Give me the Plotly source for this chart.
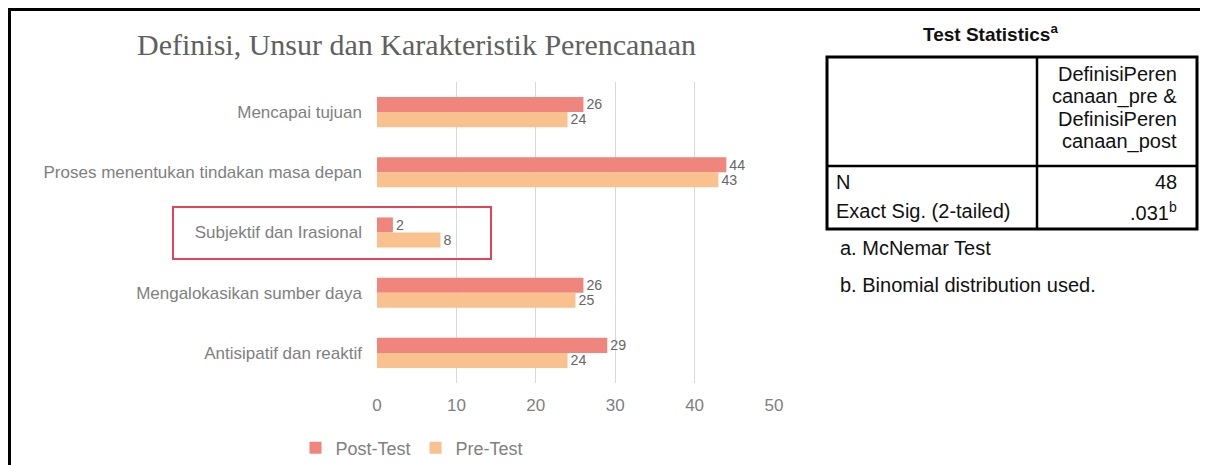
import plotly.graph_objects as go

categories = ["Mencapai tujuan", "Proses menentukan tindakan masa depan",
              "Subjektif dan Irasional", "Mengalokasikan sumber daya",
              "Antisipatif dan reaktif"]
post_test = [26, 44, 2, 26, 29]
pre_test = [24, 43, 8, 25, 24]
x_ticks = [0, 10, 20, 30, 40, 50]

chart_title = "Definisi, Unsur dan Karakteristik Perencanaan"
table_title = "<b>Test Statistics<sup>a</sup></b>"
header_lines = ["DefinisiPeren", "canaan_pre &", "DefinisiPeren", "canaan_post"]
row_labels = ["N", "Exact Sig. (2-tailed)"]
row_values = ["48", ".031<sup>b</sup>"]
footnotes = ["a. McNemar Test", "b. Binomial distribution used."]

# page body has an 8px margin: figure is drawn 8px right/down of the window origin
OFF = 8
W_FIG, H_FIG = 1208 - OFF, 465 - OFF
# plot area in window (reference) pixels
PL, PR, PT, PB = 377, 774, 82, 383
ML, MR, MT, MB = PL - OFF, W_FIG - (PR - OFF), PT - OFF, H_FIG - (PB - OFF)


def px(x):
    return (x - PL) / (PR - PL)


def py(y):
    return (PB - y) / (PB - PT)


POST_C = "#F0857D"
PRE_C = "#F9C18E"
GRAY = "#7F7F7F"
LBL = dict(family="Liberation Sans, Arial", size=16, color="#666666")

fig = go.Figure()
fig.add_trace(go.Bar(y=categories, x=post_test, name="Post-Test", orientation="h",
                     marker=dict(color=POST_C, line=dict(width=0)),
                     text=post_test, textposition="outside", textfont=LBL,
                     cliponaxis=False))
fig.add_trace(go.Bar(y=categories, x=pre_test, name="Pre-Test", orientation="h",
                     marker=dict(color=PRE_C, line=dict(width=0)),
                     text=pre_test, textposition="outside", textfont=LBL,
                     cliponaxis=False))

shapes = []
# outer frame (left and top)
shapes.append(dict(type="line", xref="paper", yref="paper",
                   x0=px(9.5), x1=px(9.5), y0=py(480), y1=py(8.5),
                   line=dict(color="black", width=3)))
shapes.append(dict(type="line", xref="paper", yref="paper",
                   x0=px(8), x1=px(1230), y0=py(9.5), y1=py(9.5),
                   line=dict(color="black", width=3)))
# highlight box
shapes.append(dict(type="rect", xref="paper", yref="paper",
                   x0=px(173), x1=px(491), y0=py(207), y1=py(259),
                   line=dict(color="#E5435A", width=2)))
# table
shapes.append(dict(type="rect", xref="paper", yref="paper",
                   x0=px(827), x1=px(1197), y0=py(57), y1=py(229),
                   line=dict(color="black", width=3)))
shapes.append(dict(type="line", xref="paper", yref="paper",
                   x0=px(1037), x1=px(1037), y0=py(57), y1=py(229),
                   line=dict(color="black", width=2.5)))
shapes.append(dict(type="line", xref="paper", yref="paper",
                   x0=px(827), x1=px(1197), y0=py(166), y1=py(166),
                   line=dict(color="black", width=2.5)))

TF = dict(family="Liberation Sans, Arial", size=20, color="#111111")
ann = []
ann.append(dict(text=chart_title, xref="paper", yref="paper", x=px(416), y=py(45),
                xanchor="center", yanchor="middle", showarrow=False,
                font=dict(family="Liberation Serif, Times New Roman", size=30, color="#606060")))
ann.append(dict(text=table_title, xref="paper", yref="paper", x=px(990), y=py(33),
                xanchor="center", yanchor="middle", showarrow=False,
                font=dict(family="Liberation Sans, Arial", size=19, color="#111111")))
for i, line in enumerate(header_lines):
    ann.append(dict(text=line, xref="paper", yref="paper", x=px(1179), y=py(74 + i * 22.5),
                    xanchor="right", yanchor="middle", showarrow=False, font=TF))
for i, (lab, val) in enumerate(zip(row_labels, row_values)):
    yy = 182 + i * 29
    ann.append(dict(text=lab, xref="paper", yref="paper", x=px(834), y=py(yy),
                    xanchor="left", yanchor="middle", showarrow=False, font=TF))
    ann.append(dict(text=val, xref="paper", yref="paper", x=px(1179), y=py(yy),
                    xanchor="right", yanchor="middle", showarrow=False, font=TF))
for i, fn in enumerate(footnotes):
    ann.append(dict(text=fn, xref="paper", yref="paper", x=px(838), y=py(248 + i * 37),
                    xanchor="left", yanchor="middle", showarrow=False, font=TF))

fig.update_layout(
    width=W_FIG, height=H_FIG,
    margin=dict(l=ML, r=MR, t=MT, b=MB, autoexpand=False),
    paper_bgcolor="white", plot_bgcolor="white",
    barmode="group", bargap=0.5, bargroupgap=0,
    showlegend=True,
    legend=dict(orientation="h", x=px(412), y=py(448), xanchor="center", yanchor="middle",
                font=dict(family="Liberation Sans, Arial", size=18, color=GRAY),
                traceorder="normal", itemwidth=30),
    xaxis=dict(range=[0, 50], tickvals=x_ticks, showgrid=True, gridcolor="#D9D9D9",
               gridwidth=1, zeroline=False, showline=False, ticks="",
               ticklabelstandoff=10,
               tickfont=dict(family="Liberation Sans, Arial", size=17, color=GRAY)),
    yaxis=dict(autorange="reversed", showgrid=False, zeroline=False, showline=False,
               ticks="", ticklabelstandoff=14,
               tickfont=dict(family="Liberation Sans, Arial", size=17, color=GRAY)),
    shapes=shapes, annotations=ann,
)

fig.write_html("out.html")
